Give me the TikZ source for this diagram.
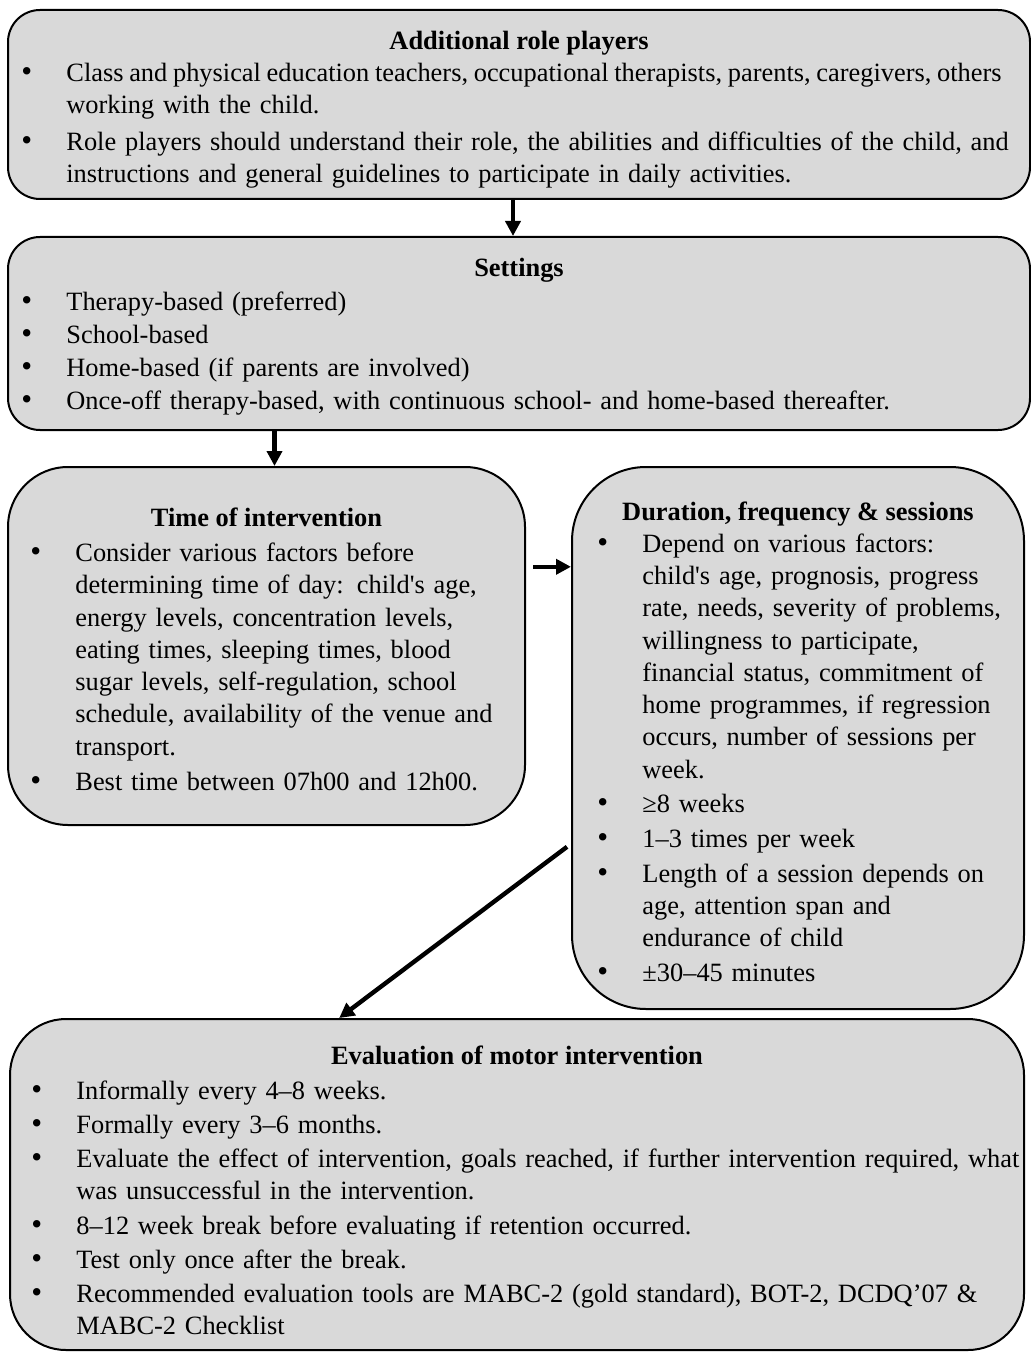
\documentclass[tikz,border=0pt]{standalone}
\usepackage{fontspec}
\setmainfont{Liberation Serif}
\usepackage{tikz}
\usetikzlibrary{positioning,calc,arrows.meta}

\definecolor{boxgray}{HTML}{D9D9D9}
\newcommand{\bitem}[1]{\noindent\hangindent=22.5pt\hangafter=1\makebox[22.5pt][l]{\rule{0pt}{11pt}{\fontsize{15.5}{16}\selectfont\textbullet}}#1\par}

\begin{document}
\begin{tikzpicture}[x=0.5pt,y=-0.5pt,
		box/.style={draw,line width=1pt,fill=boxgray,rounded corners=#1,inner sep=0pt},
		title/.style={anchor=base,inner sep=0pt,font=\fontsize{13.2}{16}\selectfont\bfseries},
		items/.style n args={3}{anchor=north west,inner sep=0pt,text width=#1,font=\fontsize{13.2}{#2}\selectfont\setlength{\parskip}{#3}},
		flow/.style={-{Triangle[length=7.5pt,width=7.5pt]},line width=2.2pt}]
		\useasboundingbox (0,0) rectangle (1031,1353);

		\node[box=16pt,minimum width=511pt,minimum height=94.5pt] (RolePlayers) at (519,104.5) {};
		\node[box=16pt,minimum width=511pt,minimum height=96.5pt] (Settings) [below=18pt of RolePlayers] {};
		\node[box=30pt,minimum width=258.5pt,minimum height=179pt] (TimeOfIntervention) at (266.5,646) {};
		\node[box=37pt,minimum width=226pt,minimum height=271pt] (Duration) at (798,738) {};
		\node[box=28pt,minimum width=507pt,minimum height=165.5pt] (Evaluation) at (517,1184.5) {};

		% texts
		\node[title] (RolePlayersTitle) at (519,50) {Additional role players};
		\node[items={600pt}{16pt}{2.75pt}] (RolePlayersText) at (21,59) {%
			\bitem{{\spaceskip=0.215em Class and physical education teachers, occupational therapists, parents, caregivers, others}\newline working with the child.}
			\bitem{Role players should understand their role, the abilities and difficulties of the child, and\newline instructions and general guidelines to participate in daily activities.}};

		\node[title] (SettingsTitle) at (519,277) {Settings};
		\node[items={600pt}{16.5pt}{0pt}] (SettingsText) at (21,288) {%
			\bitem{Therapy-based (preferred)}
			\bitem{School-based}
			\bitem{Home-based (if parents are involved)}
			\bitem{Once-off therapy-based, with continuous school- and home-based thereafter.}};

		\node[title] (TimeTitle) at (266.5,526) {Time of intervention};
		\node[items={280pt}{16.15pt}{1.35pt}] (TimeText) at (30,539) {%
			\bitem{Consider various factors before\newline determining time of day: child\textquotesingle s age,\newline energy levels, concentration levels,\newline eating times, sleeping times, blood\newline sugar levels, self-regulation, school\newline schedule, availability of the venue and\newline transport.}
			\bitem{Best time between 07h00 and 12h00.}};

		\node[title] (DurationTitle) at (798,520) {Duration, frequency \& sessions};
		\node[items={260pt}{16.13pt}{1.2pt}] (DurationText) at (597,530) {%
			\bitem{Depend on various factors:\newline child\textquotesingle s age, prognosis, progress\newline rate, needs, severity of problems,\newline willingness to participate,\newline financial status, commitment of\newline home programmes, if regression\newline occurs, number of sessions per\newline week.}
			\bitem{≥8 weeks}
			\bitem{1–3 times per week}
			\bitem{Length of a session depends on\newline age, attention span and\newline endurance of child}
			\bitem{±30–45 minutes}};

		\node[title] (EvaluationTitle) at (517,1064) {Evaluation of motor intervention};
		\node[items={600pt}{16pt}{1.1pt}] (EvaluationText) at (31,1077) {%
			\bitem{Informally every 4–8 weeks.}
			\bitem{Formally every 3–6 months.}
			\bitem{Evaluate the effect of intervention, goals reached, if further intervention required, what\newline was unsuccessful in the intervention.}
			\bitem{8–12 week break before evaluating if retention occurred.}
			\bitem{Test only once after the break.}
			\bitem{Recommended evaluation tools are MABC-2 (gold standard), BOT-2, DCDQ’07 \&\newline MABC-2 Checklist}};

		% arrows
		\draw[flow] ([xshift=-3pt]RolePlayers.south) -- ([xshift=-3pt]Settings.north);
		\draw[flow] ([xshift=4pt]Settings.south -| TimeOfIntervention.north) -- ([xshift=4pt]TimeOfIntervention.north);
		\coordinate (TimeArrow) at ([xshift=3.5pt]$(TimeOfIntervention.north east)!0.28!(TimeOfIntervention.south east)$);
		\draw[flow] (TimeArrow) -- (TimeArrow -| Duration.west);
		\coordinate (DurationArrow) at ([xshift=-2pt]$(Duration.north west)!0.70!(Duration.south west)$);
		\draw[flow] (DurationArrow) -- ($(Evaluation.north west)!0.325!(Evaluation.north east)$);
\end{tikzpicture}
\end{document}
